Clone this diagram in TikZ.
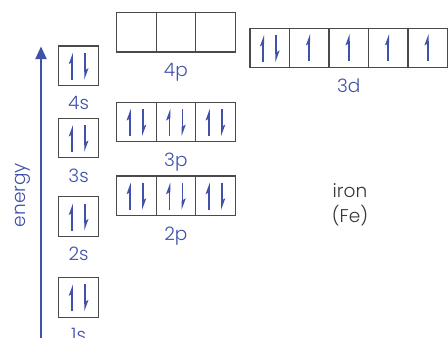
\documentclass[tikz,border=0pt]{standalone}
\usepackage{fontspec}
\setmainfont{Poppins}[UprightFont=* Light]
\usetikzlibrary{arrows.meta,calc}
\definecolor{eblue}{HTML}{3F51A8}
\definecolor{boxgray}{HTML}{4A4A4A}
\definecolor{txtgray}{HTML}{383838}
\tikzset{
  cell/.style={draw=boxgray,line width=1.2pt,minimum width=39.5pt,minimum height=39.5pt,inner sep=0pt,outer sep=0pt},
  lab/.style={text=eblue,font=\fontsize{18.5}{22}\selectfont,anchor=base,inner sep=0pt},
  elemtext/.style={text=txtgray,font=\fontsize{18.5}{22}\selectfont,anchor=base,inner sep=0pt},
  upspin/.pic={
    \draw[eblue,line width=1.7pt] (0,13.5) -- (0,-6);
    \fill[eblue] (0.85,-13.5) -- (-3.4,-2) -- (0.85,-4.5) -- cycle;
  },
  downspin/.pic={
    \draw[eblue,line width=1.7pt] (0,-13.5) -- (0,6);
    \fill[eblue] (-0.85,13.5) -- (3.4,2) -- (-0.85,4.5) -- cycle;
  },
  pairspin/.pic={
    \pic at (-6.5,0.5) {upspin};
    \pic at (6.5,0.5) {downspin};
  },
  onespin/.pic={
    \pic at (0,0) {upspin};
  }
}
\begin{document}
\begin{tikzpicture}[x=1pt,y=-1pt]
\useasboundingbox (0,0) rectangle (448,338);
% energy axis
\coordinate (ebot) at (41,340);
\coordinate (etop) at (41,46.5);
\draw[eblue,line width=1.8pt,-{Triangle[length=12.5pt,width=11pt]}] (ebot) -- (etop);
\node[rotate=90,text=eblue,font=\fontsize{18.5}{22}\selectfont,anchor=base,inner sep=0pt] (energy) at (25,195) {energy};
% s orbitals
\node[cell] (s4) at (78.6,65.7) {};
\node[cell] (s3) at (78.6,138) {};
\node[cell] (s2) at (78.6,216.5) {};
\node[cell] (s1) at (78.6,297.4) {};
\pic at (s4) {pairspin};
\pic at (s3) {pairspin};
\pic at (s2) {pairspin};
\pic at (s1) {pairspin};
\node[lab] (l4s) at ($(s4.south)+(0,24.5)$) {4s};
\node[lab] (l3s) at ($(s3.south)+(0,24.5)$) {3s};
\node[lab] (l2s) at ($(s2.south)+(0,24.5)$) {2s};
\node[lab] (l1s) at ($(s1.south)+(0,24.5)$) {1s};
% p orbitals
\foreach \r/\y in {4/32.3,3/122.1,2/195.8}{
  \node[cell] (p\r a) at (136.4,\y) {};
  \node[cell] (p\r b) at (175.9,\y) {};
  \node[cell] (p\r c) at (215.4,\y) {};
}
\foreach \r in {3,2}{
  \pic at (p\r a) {pairspin};
  \pic at (p\r b) {pairspin};
  \pic at (p\r c) {pairspin};
}
\node[lab] (l4p) at ($(p4b.south)+(0,24.5)$) {4p};
\node[lab] (l3p) at ($(p3b.south)+(0,24.5)$) {3p};
\node[lab] (l2p) at ($(p2b.south)+(0,24.5)$) {2p};
% d orbitals
\node[cell] (d1) at (269.8,47.9) {};
\node[cell] (d2) at (309.3,47.9) {};
\node[cell] (d3) at (348.8,47.9) {};
\node[cell] (d4) at (388.3,47.9) {};
\node[cell] (d5) at (427.8,47.9) {};
\pic at (d1) {pairspin};
\pic at ($(d2)+(0,-0.5)$) {onespin};
\pic at ($(d3)+(0,-0.5)$) {onespin};
\pic at ($(d4)+(0,-0.5)$) {onespin};
\pic at ($(d5)+(0,-0.5)$) {onespin};
\node[lab] (l3d) at ($(d3.south)+(0,24.5)$) {3d};
% element
\node[elemtext] (iron) at (350,197) {iron};
\node[elemtext] (fe) at (350,222) {(Fe)};
\end{tikzpicture}
\end{document}
